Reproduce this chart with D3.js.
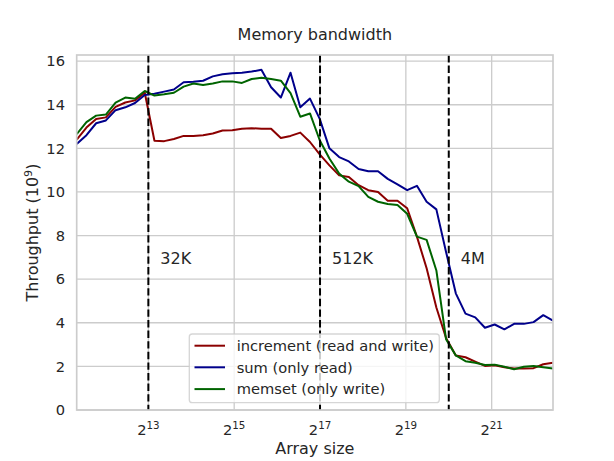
<!DOCTYPE html>
<html>
<head>
<meta charset="utf-8">
<script src="https://cdn.jsdelivr.net/npm/d3@7"></script>
<style>
  html, body { margin: 0; padding: 0; background: #fff; }
  svg { display: block; font-family: "DejaVu Sans", sans-serif; }
</style>
</head>
<body>
<svg id="chart" width="614" height="461"></svg>
<script>
// ---- data ----
// log2 of array size for each measurement
const sizeExp = [11.33, 11.557, 11.783, 12.010, 12.236, 12.463, 12.689, 12.916, 13.142, 13.369,
  13.595, 13.822, 14.048, 14.275, 14.501, 14.728, 14.954, 15.181, 15.407, 15.634,
  15.860, 16.087, 16.313, 16.540, 16.766, 16.993, 17.219, 17.446, 17.672, 17.899,
  18.125, 18.352, 18.578, 18.805, 19.031, 19.258, 19.484, 19.711, 19.937, 20.164,
  20.390, 20.617, 20.843, 21.070, 21.296, 21.523, 21.749, 21.976, 22.202, 22.429];

const increment = [12.4, 12.95, 13.35, 13.42, 13.9, 14.1, 14.2, 14.55, 12.35, 12.33,
  12.43, 12.57, 12.57, 12.6, 12.68, 12.82, 12.83, 12.9, 12.92, 12.9,
  12.9, 12.47, 12.57, 12.72, 12.29, 11.72, 11.22, 10.76, 10.69, 10.31,
  10.08, 10.0, 9.6, 9.6, 9.25, 7.95, 6.5, 4.7, 3.3, 2.5,
  2.42, 2.22, 2.02, 2.05, 1.96, 1.9, 1.9, 1.92, 2.1, 2.17];

const sum = [12.2, 12.6, 13.15, 13.28, 13.75, 13.88, 14.08, 14.45, 14.5, 14.6,
  14.7, 15.03, 15.05, 15.1, 15.3, 15.4, 15.44, 15.47, 15.52, 15.6,
  14.8, 14.33, 15.47, 13.88, 14.28, 13.35, 12.0, 11.6, 11.4, 11.05,
  10.95, 10.95, 10.6, 10.35, 10.08, 10.28, 9.55, 9.2, 7.25, 5.35,
  4.42, 4.25, 3.77, 3.92, 3.7, 3.95, 3.95, 4.03, 4.35, 4.1];

const memset = [12.65, 13.2, 13.5, 13.55, 14.1, 14.33, 14.27, 14.63, 14.42, 14.48,
  14.55, 14.83, 14.97, 14.9, 14.97, 15.07, 15.07, 15.0, 15.18, 15.24,
  15.18, 15.1, 14.53, 13.45, 13.6, 12.37, 11.53, 10.84, 10.47, 10.27,
  9.77, 9.55, 9.45, 9.4, 9.0, 7.95, 7.8, 6.4, 3.25, 2.5,
  2.24, 2.17, 2.06, 2.08, 1.98, 1.87, 1.98, 2.02, 1.96, 1.9];

const seriesNames = ["increment (read and write)", "sum (only read)", "memset (only write)"];
const seriesColors = ["#8b0000", "#00008b", "#006400"];

const xTickExp = [13, 15, 17, 19, 21];
const yTicks = [0, 2, 4, 6, 8, 10, 12, 14, 16];

const cacheExp = [13, 17, 20];
const cacheLabels = ["32K", "512K", "4M"];
const cacheLabelY = 6.96;

// ---- layout ----
const svg = d3.select("#chart");
const L = 76.7, R = 553, T = 55, B = 410;
const textColor = "#262626";

const x = d3.scaleLog().base(2)
  .domain([Math.pow(2, sizeExp[0]), Math.pow(2, sizeExp[sizeExp.length - 1])])
  .range([L, R]);
const y = d3.scaleLinear().domain([0, 16.28]).range([B, T]);

// grid
const grid = svg.append("g");
grid.selectAll("line.h").data(yTicks).join("line")
  .attr("x1", L).attr("x2", R)
  .attr("y1", d => y(d)).attr("y2", d => y(d))
  .attr("stroke", "#cccccc").attr("stroke-width", 1.33);
grid.selectAll("line.v").data(xTickExp).join("line")
  .attr("y1", T).attr("y2", B)
  .attr("x1", d => x(Math.pow(2, d))).attr("x2", d => x(Math.pow(2, d)))
  .attr("stroke", "#cccccc").attr("stroke-width", 1.33);

// clip
svg.append("clipPath").attr("id", "clip")
  .append("rect").attr("x", L).attr("y", T).attr("width", R - L).attr("height", B - T);

// lines
const allSeries = [increment, sum, memset];
const line = d3.line()
  .x((d, i) => x(Math.pow(2, sizeExp[i])))
  .y(d => y(d));
const lg = svg.append("g").attr("clip-path", "url(#clip)");
allSeries.forEach((s, k) => {
  lg.append("path").datum(s)
    .attr("d", line)
    .attr("fill", "none")
    .attr("stroke", seriesColors[k])
    .attr("stroke-width", 2)
    .attr("stroke-linejoin", "round")
    .attr("stroke-linecap", "butt");
});

// cache size markers
const cg = svg.append("g");
cacheExp.forEach((e, k) => {
  const cx = x(Math.pow(2, e));
  cg.append("line")
    .attr("x1", cx).attr("x2", cx).attr("y1", T).attr("y2", B)
    .attr("stroke", "#000").attr("stroke-width", 2)
    .attr("stroke-dasharray", "7.4,3.2");
  cg.append("text")
    .attr("x", cx + 12).attr("y", y(cacheLabelY) + 6)
    .attr("font-size", 16).attr("fill", textColor)
    .text(cacheLabels[k]);
});

// frame
svg.append("rect").attr("x", L).attr("y", T).attr("width", R - L).attr("height", B - T)
  .attr("fill", "none").attr("stroke", "#cccccc").attr("stroke-width", 1.67);

// y tick labels
svg.append("g").selectAll("text").data(yTicks).join("text")
  .attr("x", 65).attr("y", d => y(d)).attr("dy", "0.36em")
  .attr("text-anchor", "end").attr("font-size", 14.67).attr("fill", textColor)
  .text(d => d);

// x tick labels
const xt = svg.append("g").selectAll("text").data(xTickExp).join("text")
  .attr("x", d => x(Math.pow(2, d))).attr("y", 435)
  .attr("text-anchor", "middle").attr("font-size", 14.67).attr("fill", textColor);
xt.append("tspan").text("2");
xt.append("tspan").attr("font-size", 10.3).attr("dy", -6.5).text(d => d);

// axis labels
svg.append("text").attr("x", (L + R) / 2).attr("y", 453.5)
  .attr("text-anchor", "middle").attr("font-size", 16).attr("fill", textColor)
  .text("Array size");
const yl = svg.append("text")
  .attr("transform", `translate(38,${(T + B) / 2}) rotate(-90)`)
  .attr("text-anchor", "middle").attr("font-size", 16).attr("fill", textColor);
yl.append("tspan").text("Throughput (10");
yl.append("tspan").attr("font-size", 11.2).attr("dy", -6.5).text("9");
yl.append("tspan").attr("dy", 6.5).text(")");

// title
svg.append("text").attr("x", (L + R) / 2).attr("y", 40)
  .attr("text-anchor", "middle").attr("font-size", 16).attr("fill", textColor)
  .text("Memory bandwidth");

// legend
const leg = svg.append("g");
leg.append("rect").attr("x", 189.3).attr("y", 334).attr("width", 250).attr("height", 68.7)
  .attr("rx", 3).attr("ry", 3)
  .attr("fill", "#ffffff").attr("fill-opacity", 0.8)
  .attr("stroke", "#cccccc").attr("stroke-opacity", 0.8).attr("stroke-width", 1.33);
const rowY = [345.7, 367.3, 389.1];
seriesNames.forEach((n, k) => {
  leg.append("line").attr("x1", 194.5).attr("x2", 225)
    .attr("y1", rowY[k]).attr("y2", rowY[k])
    .attr("stroke", seriesColors[k]).attr("stroke-width", 2);
  leg.append("text").attr("x", 236.7).attr("y", rowY[k]).attr("dy", "0.36em")
    .attr("font-size", 14.67).attr("fill", textColor).text(n);
});
</script>
</body>
</html>
